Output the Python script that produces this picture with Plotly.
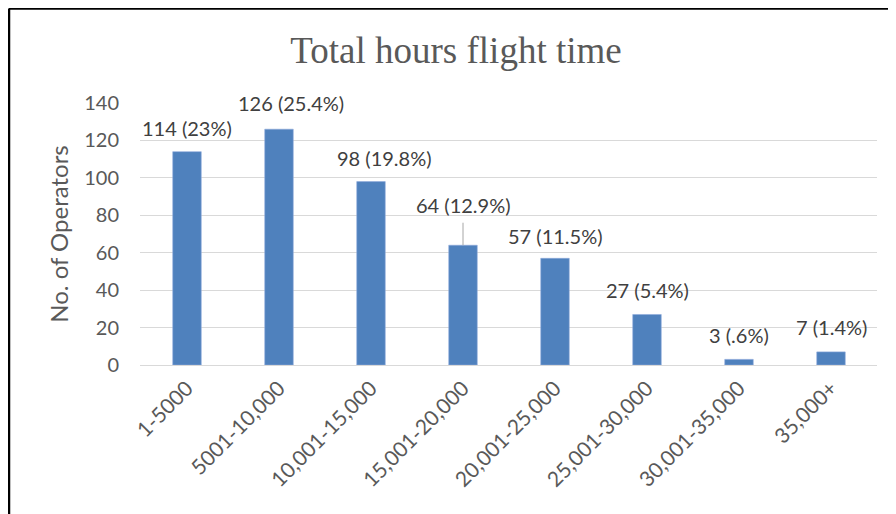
import plotly.graph_objects as go

categories = ["1-5000", "5001-10,000", "10,001-15,000", "15,001-20,000",
              "20,001-25,000", "25,001-30,000", "30,001-35,000", "35,000+"]
operators = [114, 126, 98, 64, 57, 27, 3, 7]
percent_labels = ["23%", "25.4%", "19.8%", "12.9%", "11.5%", "5.4%", ".6%", "1.4%"]
y_ticks = [0, 20, 40, 60, 80, 100, 120, 140]

# label offsets (pixels) mimicking Excel's manually moved data labels
label_dx = [0, 12, 13, 0, 0, 0, 0, 0]
label_dy = [24, 26, 24, 40, 22, 24, 24, 25]

FONT = "Lato, Liberation Sans"

fig = go.Figure()
fig.add_trace(go.Bar(
    x=categories, y=operators,
    marker=dict(color="#4f81bd", line=dict(color="#8eaadb", width=0.6)),
    width=0.31, hoverinfo="x+y",
))

for c, v, p, dx, dy in zip(categories, operators, percent_labels, label_dx, label_dy):
    fig.add_annotation(x=c, y=v, text=f"{v} ({p})", showarrow=False,
                       xshift=dx, yshift=dy,
                       font=dict(family=FONT, size=20, color="#404040"))

# leader line for the moved 15,001-20,000 label
idx = 3
fig.add_annotation(x=categories[idx], y=operators[idx], ax=0, ay=-24,
                   showarrow=True, arrowhead=0, arrowwidth=1, arrowcolor="#a6a6a6",
                   text="", standoff=0)

# page has an 8px body margin: figure spans screen 8..896
OFF = 8
W, H = 896 - OFF, 514 - OFF
L, R, T, B = 140 - OFF, 19, 103 - OFF, 149
pw, ph = W - L - R, H - T - B
bx = (1 - L) / pw
by = 1 + (T - 0.5) / ph
fig.add_shape(type="line", xref="paper", yref="paper", x0=bx, x1=bx, y0=by, y1=-1,
              line=dict(color="black", width=2.5))
fig.add_shape(type="line", xref="paper", yref="paper", x0=bx, x1=2, y0=by, y1=by,
              line=dict(color="black", width=2.5))

fig.update_layout(
    width=W, height=H,
    margin=dict(l=L, r=R, t=T, b=B),
    paper_bgcolor="white", plot_bgcolor="white",
    showlegend=False,
    title=dict(text="Total hours flight time", x=(456 - OFF) / W, xanchor="center",
               y=1 - (50 - OFF) / H, yanchor="middle",
               font=dict(family="Liberation Serif, Times New Roman", size=37, color="#595959")),
    xaxis=dict(tickangle=-45, showgrid=False, showline=False, ticks="",
               ticklabelstandoff=6,
               tickfont=dict(family=FONT, size=21, color="#595959")),
    yaxis=dict(range=[0, 140], tickvals=y_ticks, showgrid=True, gridcolor="#d9d9d9",
               gridwidth=1, zeroline=True, zerolinecolor="#d9d9d9", zerolinewidth=1,
               showline=False, ticks="", ticklen=0, ticklabelstandoff=20,
               title=dict(text="No. of Operators", standoff=8,
                          font=dict(family=FONT, size=24, color="#595959")),
               tickfont=dict(family=FONT, size=20, color="#595959")),
    bargap=0.68,
)

fig.write_html("out.html")
